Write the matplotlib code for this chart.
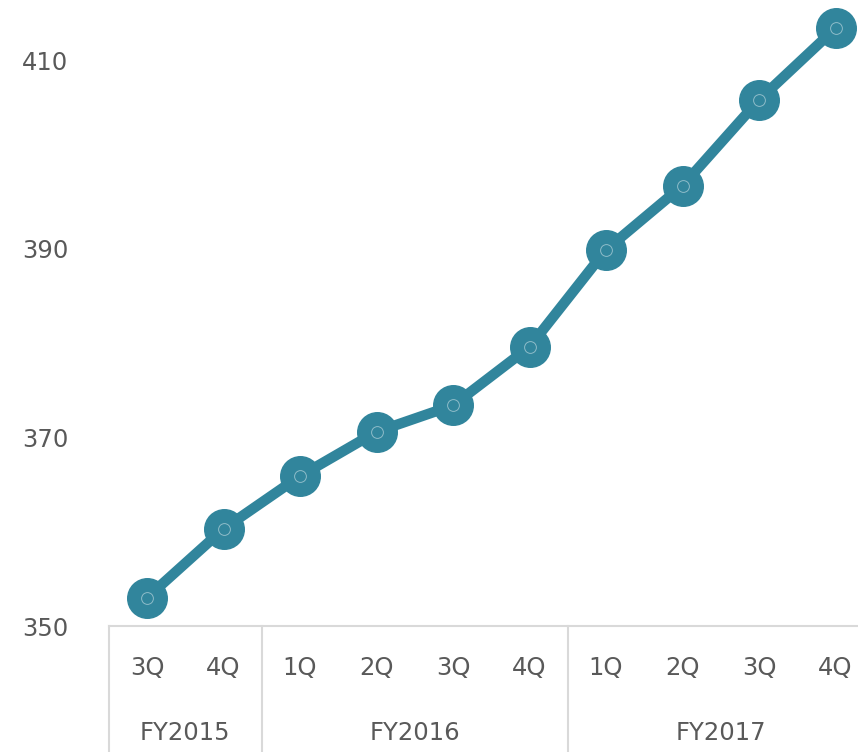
import matplotlib.pyplot as plt
import matplotlib.transforms as mtransforms

quarters = ["3Q", "4Q", "1Q", "2Q", "3Q", "4Q", "1Q", "2Q", "3Q", "4Q"]
years = ["FY2015", "FY2016", "FY2017"]
year_sizes = [2, 4, 4]
values = [353.0, 360.3, 365.9, 370.6, 373.4, 379.6, 389.9, 396.7, 405.8, 413.4]

LINE = "#31859C"
TEXT = "#595959"
GRID = "#D9D9D9"

fig = plt.figure(figsize=(8.58, 7.52), dpi=100)
ax = fig.add_axes([108.75 / 858, 126 / 752, 765 / 858, 626 / 752])

x = list(range(len(values)))
ax.plot(x, values, color=LINE, linewidth=7.5, marker="o", markersize=28.5,
        markerfacecolor=LINE, markeredgecolor=LINE, solid_capstyle="round")
# faint inner ring of the Excel marker
ax.plot(x, values, linestyle="none", marker="o", markersize=8.5,
        markerfacecolor="none", markeredgecolor="#ffffff", markeredgewidth=0.7, alpha=0.45)

ax.set_xlim(-0.5, len(values) - 0.5)
ax.set_ylim(350, 416.4)
ax.set_yticks([350, 370, 390, 410])
ax.tick_params(axis="y", length=0, pad=29, labelsize=17.5, labelcolor=TEXT)
ax.set_xticks([])

for s in ["top", "right", "left"]:
    ax.spines[s].set_visible(False)
ax.spines["bottom"].set_color(GRID)
ax.spines["bottom"].set_linewidth(1.5)

trans = mtransforms.blended_transform_factory(ax.transData, ax.transAxes)
for i, q in enumerate(quarters):
    ax.text(i, -0.067, q, transform=trans, ha="center", va="center",
            fontsize=17.5, color=TEXT)

start = -0.5
ax.plot([start, start], [0, -0.21], transform=trans, color=GRID, lw=1.5, clip_on=False)
for name, n in zip(years, year_sizes):
    end = start + n
    ax.text((start + end) / 2, -0.171, name, transform=trans, ha="center", va="center",
            fontsize=17.5, color=TEXT)
    ax.plot([end, end], [0, -0.21], transform=trans, color=GRID, lw=1.5, clip_on=False)
    start = end

fig.savefig("out.png", dpi=100)
